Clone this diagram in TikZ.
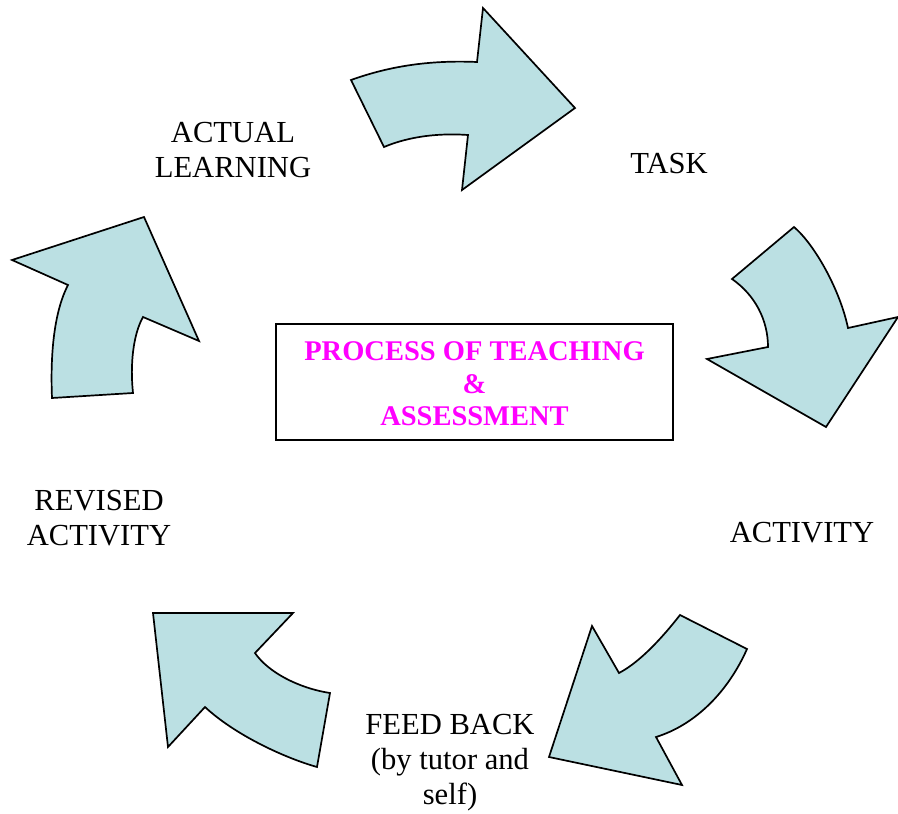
\documentclass[tikz,border=0pt]{standalone}
\usepackage{fontspec}
\setmainfont{Liberation Serif}
\definecolor{arrowfill}{RGB}{187,224,227}
\definecolor{titlemag}{RGB}{255,0,255}
\begin{document}
\begin{tikzpicture}[x=1pt,y=-1pt,
  bigarrow/.style={draw=black,fill=arrowfill,line width=1.7pt,line join=miter},
  lbl/.style={align=center,font=\fontsize{30.6}{35}\selectfont,inner sep=0pt},
  titlebox/.style={draw=black,line width=1.4pt,minimum width=397pt,minimum height=116pt,inner sep=0pt},
  titletext/.style={align=center,text=titlemag,font=\fontsize{28.5}{32.5}\selectfont\bfseries,inner sep=0pt}]
\useasboundingbox (0,0) rectangle (898,814);
% top arrow (to TASK)
\draw[bigarrow] (351,80) .. controls (390,66) and (430,60) .. (477,62)
  -- (483,8) -- (575,108) -- (462,190) -- (468,135)
  .. controls (440,133) and (410,136) .. (384,147) -- cycle;
% right arrow (to ACTIVITY)
\draw[bigarrow] (794,227) .. controls (815,245) and (840,290) .. (848,328)
  -- (898,317) -- (826,427) -- (707,359) -- (768,347)
  .. controls (768,320) and (755,295) .. (732,279) -- cycle;
% bottom-right arrow (to FEED BACK)
\draw[bigarrow] (680,615) -- (747,649)
  .. controls (728,692) and (695,725) .. (656,737)
  -- (682,785) -- (549,757) -- (592,626) -- (619,673)
  .. controls (640,662) and (662,638) .. (680,615) -- cycle;
% bottom-left arrow (to REVISED ACTIVITY)
\draw[bigarrow] (153,613) -- (293,613) -- (255,653)
  .. controls (268,672) and (298,688) .. (330,693)
  -- (317,767)
  .. controls (285,758) and (235,735) .. (205,707)
  -- (168,747) -- cycle;
% left arrow (to ACTUAL LEARNING)
\draw[bigarrow] (52,398) -- (133,393)
  .. controls (130,365) and (133,335) .. (143,317)
  -- (199,341) -- (144,217) -- (12,260) -- (68,285)
  .. controls (55,310) and (50,350) .. (52,398) -- cycle;
% centre box
\node[titlebox] (box) at (474.5,382) {};
\node[titletext] (title) at (474.5,384) {PROCESS OF TEACHING\\\&\\ASSESSMENT};
% labels
\node[lbl] (learn) at (233,150) {ACTUAL\\LEARNING};
\node[lbl] (task) at (669,164) {TASK};
\node[lbl] (act) at (802,533) {ACTIVITY};
\node[lbl] (rev) at (99,518) {REVISED\\ACTIVITY};
\node[lbl] (feed) at (450,763) {FEED BACK\\(by tutor and\\self)};
\end{tikzpicture}
\end{document}
